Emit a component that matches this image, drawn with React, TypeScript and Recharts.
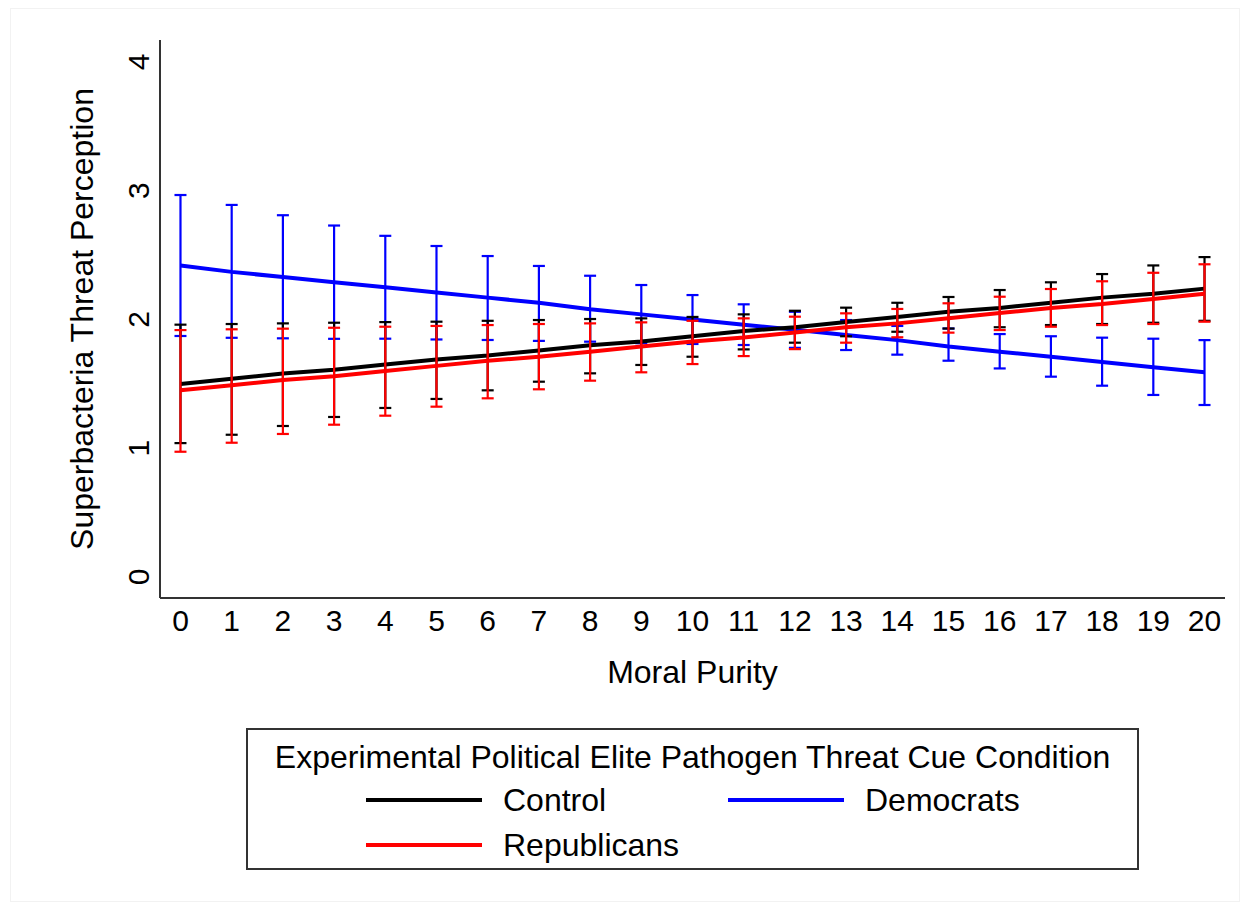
import React from 'react';
import { LineChart, Line, XAxis, YAxis, ErrorBar, Label, Legend } from 'recharts';

const moralPurity = [0, 1, 2, 3, 4, 5, 6, 7, 8, 9, 10, 11, 12, 13, 14, 15, 16, 17, 18, 19, 20];

const controlMean = [1.5, 1.54, 1.58, 1.61, 1.65, 1.69, 1.72, 1.76, 1.8, 1.83, 1.87, 1.91, 1.94, 1.98, 2.02, 2.06, 2.09, 2.13, 2.17, 2.2, 2.24];
const controlHi = [1.96, 1.965, 1.97, 1.975, 1.98, 1.983, 1.99, 1.996, 2.004, 2.009, 2.02, 2.04, 2.068, 2.092, 2.13, 2.175, 2.229, 2.289, 2.353, 2.42, 2.485];
const controlLo = [1.04, 1.105, 1.173, 1.243, 1.313, 1.383, 1.45, 1.517, 1.582, 1.647, 1.711, 1.768, 1.82, 1.87, 1.905, 1.93, 1.94, 1.957, 1.965, 1.975, 1.99];

const demMean = [2.42, 2.37, 2.33, 2.29, 2.25, 2.21, 2.17, 2.13, 2.08, 2.04, 2.0, 1.96, 1.92, 1.88, 1.84, 1.79, 1.75, 1.71, 1.67, 1.63, 1.59];
const demHi = [2.967, 2.89, 2.81, 2.73, 2.65, 2.571, 2.493, 2.416, 2.34, 2.268, 2.19, 2.118, 2.06, 1.996, 1.95, 1.93, 1.887, 1.87, 1.859, 1.851, 1.84];
const demLo = [1.872, 1.858, 1.854, 1.85, 1.851, 1.845, 1.841, 1.834, 1.828, 1.816, 1.81, 1.802, 1.78, 1.763, 1.727, 1.68, 1.62, 1.556, 1.486, 1.414, 1.336];

const repMean = [1.45, 1.49, 1.53, 1.56, 1.6, 1.64, 1.68, 1.71, 1.75, 1.79, 1.83, 1.86, 1.9, 1.94, 1.97, 2.01, 2.05, 2.09, 2.12, 2.16, 2.2];
const repHi = [1.918, 1.924, 1.929, 1.936, 1.944, 1.95, 1.957, 1.965, 1.97, 1.978, 1.99, 2.009, 2.022, 2.048, 2.082, 2.126, 2.177, 2.237, 2.297, 2.363, 2.429];
const repLo = [0.973, 1.043, 1.111, 1.183, 1.253, 1.323, 1.388, 1.458, 1.525, 1.59, 1.654, 1.716, 1.77, 1.82, 1.862, 1.898, 1.918, 1.944, 1.957, 1.965, 1.983];

const yTicks = [0, 1, 2, 3, 4];

const FONT = '"Liberation Sans", Arial, sans-serif';

const data = moralPurity.map((x, i) => ({
  x,
  control: controlMean[i],
  controlErr: [controlMean[i] - controlLo[i], controlHi[i] - controlMean[i]],
  dem: demMean[i],
  demErr: [demMean[i] - demLo[i], demHi[i] - demMean[i]],
  rep: repMean[i],
  repErr: [repMean[i] - repLo[i], repHi[i] - repMean[i]],
}));

const YTick = (props: any) => {
  const { y, payload } = props;
  return (
    <text x={139} y={y} transform={`rotate(-90, 139, ${y})`} textAnchor="middle" dominantBaseline="central"
      fontSize={30} fontFamily={FONT} fill="#000">
      {payload.value}
    </text>
  );
};

const LegendBox = () => {
  const item = (color: string, label: string, lx: number, ly: number) => (
    <div style={{ position: 'absolute', left: lx, top: ly - 20, height: 40, display: 'flex', alignItems: 'center' }}>
      <div style={{ width: 116, height: 4, background: color }} />
      <span style={{ marginLeft: 21, fontSize: 32, fontFamily: FONT, color: '#000' }}>{label}</span>
    </div>
  );
  return (
    <div style={{ position: 'relative', width: 893, height: 142, boxSizing: 'border-box', border: '2px solid #333', background: '#fff' }}>
      <div style={{ position: 'absolute', left: 0, right: 0, top: 9, textAlign: 'center', fontSize: 32, fontFamily: FONT, color: '#000' }}>
        Experimental Political Elite Pathogen Threat Cue Condition
      </div>
      {item('#000000', 'Control', 118, 70)}
      {item('#0000ff', 'Democrats', 480, 70)}
      {item('#ff0000', 'Republicans', 118, 115)}
    </div>
  );
};

export default function App() {
  return (
    <div style={{ position: 'absolute', left: 0, top: 0, width: 1247, height: 909, background: '#fff' }}>
      <div style={{ position: 'absolute', left: 10, top: 8, width: 1228, height: 892, border: '1px solid #f2f2f2' }} />
      <LineChart width={1247} height={909} data={data} margin={{ top: 40, right: 22, left: 0, bottom: 69 }}>
        <XAxis dataKey="x" type="number" domain={[-0.4, 20.4]} ticks={moralPurity} interval={0}
          tickLine={false} axisLine={{ stroke: '#333', strokeWidth: 2 }} height={100} tickMargin={6}
          tick={{ fontSize: 30, fontFamily: FONT, fill: '#000' }}>
          <Label value="Moral Purity" position="insideTop" offset={62} style={{ fontSize: 32, fontFamily: FONT, fill: '#000' }} />
        </XAxis>
        <YAxis type="number" domain={[-0.163, 4.171]} ticks={yTicks} width={160} tickLine={false}
          axisLine={{ stroke: '#333', strokeWidth: 2 }} tick={<YTick />} allowDataOverflow>
          <Label content={() => (
            <text x={82} y={319} transform="rotate(-90, 82, 319)" textAnchor="middle" dominantBaseline="central"
              fontSize={32} fontFamily={FONT} fill="#000">
              Superbacteria Threat Perception
            </text>
          )} />
        </YAxis>
        <Line dataKey="dem" stroke="#0000ff" strokeWidth={4} dot={false} isAnimationActive={false}>
          <ErrorBar dataKey="demErr" direction="y" width={6} stroke="#0000ff" strokeWidth={2.2} isAnimationActive={false} />
        </Line>
        <Line dataKey="control" stroke="#000000" strokeWidth={4} dot={false} isAnimationActive={false}>
          <ErrorBar dataKey="controlErr" direction="y" width={6} stroke="#000000" strokeWidth={2.2} isAnimationActive={false} />
        </Line>
        <Line dataKey="rep" stroke="#ff0000" strokeWidth={4} dot={false} isAnimationActive={false}>
          <ErrorBar dataKey="repErr" direction="y" width={6} stroke="#ff0000" strokeWidth={2.2} isAnimationActive={false} />
        </Line>
        <Legend content={<LegendBox />} wrapperStyle={{ position: 'absolute', left: 246, top: 728, width: 893, height: 142, bottom: 'auto' }} />
      </LineChart>
    </div>
  );
}
